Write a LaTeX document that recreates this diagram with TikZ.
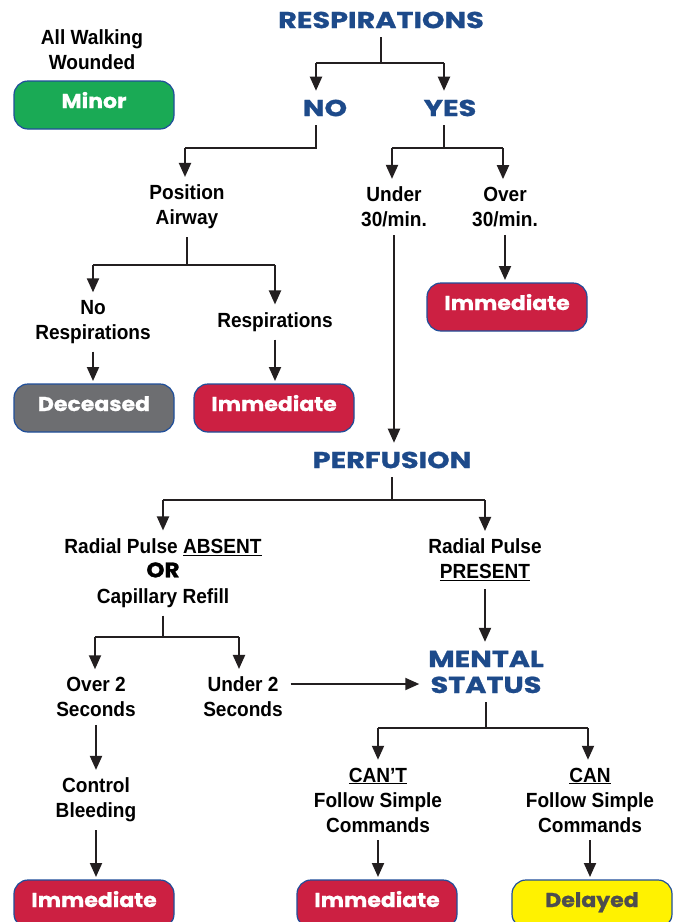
\documentclass[tikz,border=0pt]{standalone}
\usepackage{fontspec}
\usetikzlibrary{arrows.meta,calc}
\newfontfamily\condfont[FakeStretch=0.93]{Liberation Sans}
\newfontfamily\hdrfont[FakeStretch=1.25,FakeBold=1]{Poppins}
\newfontfamily\boxfont[FakeStretch=1.1,FakeBold=1]{Poppins}
\newcommand{\bxt}[1]{\raisebox{-3pt}[0pt][0pt]{#1}}
\definecolor{hblue}{HTML}{1D4A8A}
\definecolor{bblue}{HTML}{1F4E9A}
\definecolor{linec}{HTML}{231F20}
\definecolor{redb}{HTML}{CC2042}
\definecolor{greenb}{HTML}{1AAA55}
\definecolor{grayb}{HTML}{6D6E71}
\definecolor{yellowb}{HTML}{FFF200}
\definecolor{darktxt}{HTML}{4D4D4F}
\tikzset{
  ln/.style={line width=2pt, draw=linec},
  arr/.style={ln, -{Triangle[length=14pt,width=12pt]}},
  hdr/.style={font=\hdrfont\bfseries\fontsize{23}{26}\selectfont, text=hblue, inner sep=0pt, outer sep=9pt, align=center},
  lbl/.style={font=\condfont\bfseries\fontsize{20.5}{25}\selectfont, text=black, inner sep=0pt, outer sep=8pt, align=center},
  tbox/.style={rounded corners=14pt, draw=bblue, line width=1.2pt, minimum width=160pt, minimum height=48pt, inner sep=0pt, outer sep=3pt, font=\boxfont\bfseries\fontsize{20}{22}\selectfont, text=white},
}
\begin{document}
\begin{tikzpicture}[x=1pt,y=-1pt]
\useasboundingbox (0,0) rectangle (676,922);
\fill[white] (0,0) rectangle (676,922);
% texts
\node[hdr] (resp) at (381,20) {RESPIRATIONS};
\node[hdr] (no) at (325,108) {NO};
\node[hdr] (yes) at (450,108) {YES};
\node[lbl] (walk) at (92,50) {All Walking\\Wounded};
\node[tbox, fill=greenb] (minor) at (94,105) {\bxt{Minor}};
\node[lbl] (posair) at (187,207) {Position\\Airway};
\node[lbl] (under30) at (394,207) {Under\\30/min.};
\node[lbl] (over30) at (505,207) {Over\\30/min.};
\node[lbl] (noresp) at (93,322) {No\\Respirations};
\node[lbl] (resp2) at (275,322) {Respirations};
\node[tbox, fill=grayb] (deceased) at (94,408) {\bxt{Deceased}};
\node[tbox, fill=redb] (imm1) at (274,408) {\bxt{Immediate}};
\node[tbox, fill=redb] (imm2) at (507,307) {\bxt{Immediate}};
\node[hdr] (perf) at (392,460) {PERFUSION};
\node[lbl] (absent) at (163,573) {Radial Pulse \underline{ABSENT}\\[-1pt]{\boxfont\bfseries\fontsize{21}{24}\selectfont OR}\\[1pt]Capillary Refill};
\node[lbl] (present) at (485,560) {Radial Pulse\\\underline{PRESENT}};
\node[hdr] (mental) at (486,672) {MENTAL\\STATUS};
\node[lbl] (over2) at (96,697) {Over 2\\Seconds};
\node[lbl] (under2) at (243,697) {Under 2\\Seconds};
\node[lbl] (control) at (96,800) {Control\\Bleeding};
\node[lbl] (cant) at (378,800) {\underline{CAN’T}\\Follow Simple\\Commands};
\node[lbl] (can) at (590,800) {\underline{CAN}\\Follow Simple\\Commands};
\node[tbox, fill=redb] (imm3) at (94,904) {\bxt{Immediate}};
\node[tbox, fill=redb] (imm4) at (377,904) {\bxt{Immediate}};
\node[tbox, fill=yellowb, text=darktxt] (delayed) at (592,904) {\bxt{Delayed}};
% junctions
\coordinate (j1) at (381,63);
\coordinate (j1l) at (316,63);
\coordinate (j1r) at (444,63);
\coordinate (j2) at (316,148);
\coordinate (j2l) at (185,148);
\coordinate (j3) at (444,148);
\coordinate (j3l) at (392,148);
\coordinate (j3r) at (503,148);
\coordinate (j4) at (187,265);
\coordinate (j4l) at (93,265);
\coordinate (j4r) at (275,265);
\coordinate (j5) at (392,500);
\coordinate (j5l) at (163,500);
\coordinate (j5r) at (485,500);
\coordinate (j6) at (163,637);
\coordinate (j6l) at (95,637);
\coordinate (j6r) at (239,637);
\coordinate (j7) at (486,728);
\coordinate (j7l) at (378,728);
\coordinate (j7r) at (588,728);
% connectors
\draw[ln] (resp.south) -- (j1);
\draw[ln] (j1l) -- (j1r);
\draw[arr] (j1l) -- (j1l |- no.north);
\draw[arr] (j1r) -- (j1r |- yes.north);
\draw[ln] (j1l |- no.south) -- (j2) -- (j2l);
\draw[arr] (j2l) -- (j2l |- posair.north);
\draw[ln] (j1r |- yes.south) -- (j3);
\draw[ln] (j3l) -- (j3r);
\draw[arr] (j3l) -- (j3l |- under30.north);
\draw[arr] (j3r) -- (j3r |- over30.north);
\draw[ln] (posair.south) -- (j4);
\draw[ln] (j4l) -- (j4r);
\draw[arr] (j4l) -- (j4l |- noresp.north);
\draw[arr] (j4r) -- (j4r |- resp2.north);
\draw[arr] (noresp.south) -- (noresp.south |- deceased.north);
\draw[arr] (resp2.south) -- (resp2.south |- imm1.north);
\draw[arr] (over30.south) -- (over30.south |- imm2.north);
\draw[arr] (under30.south) -- (under30.south |- perf.north);
\draw[ln] (perf.south) -- (j5);
\draw[ln] (j5l) -- (j5r);
\draw[arr] (j5l) -- (j5l |- absent.north);
\draw[arr] (j5r) -- (j5r |- present.north);
\draw[arr] (present.south) -- (present.south |- mental.north);
\draw[ln] (absent.south) -- (j6);
\draw[ln] (j6l) -- (j6r);
\draw[arr] (j6l) -- (j6l |- over2.north);
\draw[arr] (j6r) -- (j6r |- under2.north);
\draw[arr] ([yshift=13pt]under2.east) -- ([yshift=13pt]under2.east -| mental.west);
\draw[arr] (over2.south) -- (over2.south |- control.north);
\draw[arr] (control.south) -- (control.south |- imm3.north);
\draw[ln] (mental.south) -- (j7);
\draw[ln] (j7l) -- (j7r);
\draw[arr] (j7l) -- (j7l |- cant.north);
\draw[arr] (j7r) -- (j7r |- can.north);
\draw[arr] (cant.south) -- (cant.south |- imm4.north);
\draw[arr] (can.south) -- (can.south |- delayed.north);
\end{tikzpicture}
\end{document}
